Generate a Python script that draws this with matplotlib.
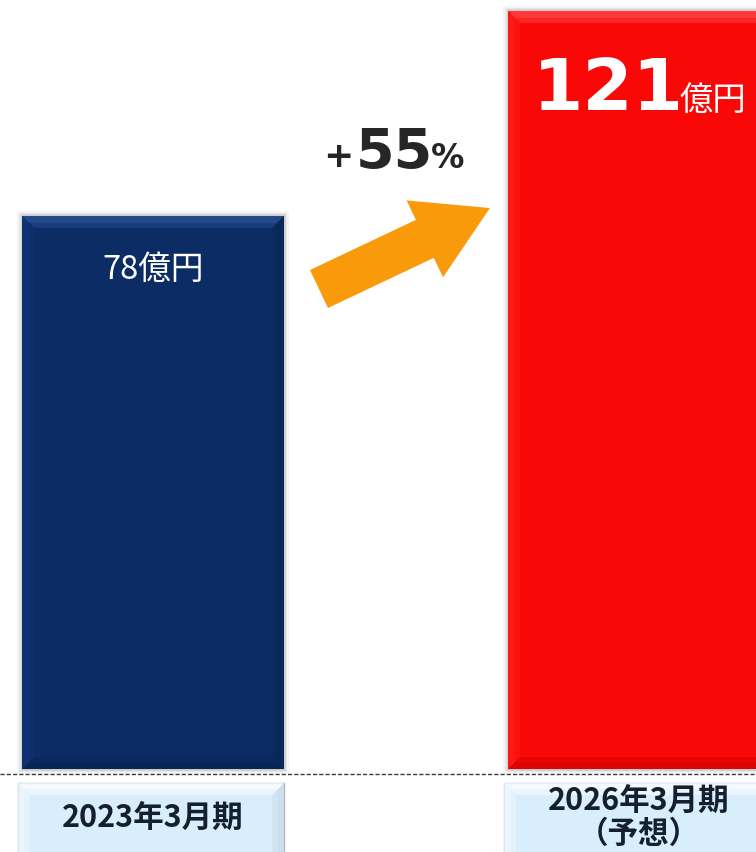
import matplotlib
matplotlib.use("Agg")
import matplotlib.pyplot as plt
from matplotlib.patches import Polygon, Rectangle, FancyArrow

# ---- data ----
categories = ["2023年3月期", "2026年3月期\n（予想）"]
values = [78, 121]
value_labels = ["78億円", "121億円"]
growth_label = "+55%"

# ---- style ----
bar_colors = ["#0B2C64", "#FA0808"]
bevel_light = ["#2A5298", "#FF4848"]
bevel_side_l = ["#113577", "#FF1C1C"]
bevel_side_r = ["#092656", "#E40404"]
bevel_dark = ["#082455", "#D60202"]
BASE = -38
CJK = ["Noto Sans CJK JP", "DejaVu Sans"]

W, H = 756, 852
fig = plt.figure(figsize=(W / 100, H / 100), dpi=100)
ax = fig.add_axes([0, 0, 1, 1])
ax.set_xlim(-0.315, 1.2407)
ax.set_ylim(-55.4, 123.3)
ax.axis("off")

PXX = 1 / 486.0
PXY = 1 / 4.767


def py(p):
    return (769 - p) * PXY + BASE


x = list(range(len(values)))
bw = 0.539
heights = [v - BASE for v in values]
bars = ax.bar(x, heights, bottom=BASE, width=bw, color=bar_colors, zorder=3)


def bevel(ax, x0, y0, x1, y1, b, cl, cls, crs, cd, z, alpha=1.0):
    bx, by = b * PXX, b * PXY
    ax.add_patch(Polygon([(x0, y1), (x1, y1), (x1 - bx, y1 - by), (x0 + bx, y1 - by)],
                         closed=True, color=cl, lw=0, zorder=z, alpha=alpha))
    ax.add_patch(Polygon([(x0, y0), (x0, y1), (x0 + bx, y1 - by), (x0 + bx, y0 + by)],
                         closed=True, color=cls, lw=0, zorder=z, alpha=alpha))
    ax.add_patch(Polygon([(x1, y0), (x1, y1), (x1 - bx, y1 - by), (x1 - bx, y0 + by)],
                         closed=True, color=crs, lw=0, zorder=z, alpha=alpha))
    ax.add_patch(Polygon([(x0, y0), (x1, y0), (x1 - bx, y0 + by), (x0 + bx, y0 + by)],
                         closed=True, color=cd, lw=0, zorder=z, alpha=alpha))


for i, p in enumerate(bars.patches):
    x0, y0 = p.get_x(), p.get_y()
    x1, y1 = x0 + p.get_width(), y0 + p.get_height()
    for k, a in [(5, 0.04), (3, 0.06), (1.5, 0.08)]:
        ax.add_patch(Rectangle((x0 - k * PXX, y0 - k * PXY), (x1 - x0) + 2 * k * PXX,
                               (y1 - y0) + 2 * k * PXY, color="#000000", alpha=a, lw=0, zorder=2))
    # layered bevel to imitate a soft gradient
    bevel(ax, x0, y0, x1, y1, 12, bevel_light[i], bevel_side_l[i], bevel_side_r[i], bevel_dark[i], 4, 0.45)
    bevel(ax, x0, y0, x1, y1, 7, bevel_light[i], bevel_side_l[i], bevel_side_r[i], bevel_dark[i], 4, 0.6)

# dashed baseline
ax.axhline(py(774), color="#3A3A3A", lw=1.0, ls=(0, (3, 1.5)), zorder=1)

# category label boxes
box_w = 266 * PXX
for i, lab in enumerate(categories):
    bx0 = x[i] - box_w / 2 - 2 * PXX
    bx1 = bx0 + box_w
    by0, by1 = py(870), py(783)
    ax.add_patch(Rectangle((bx0, by0), bx1 - bx0, by1 - by0, facecolor="#D9EEFC",
                           edgecolor="#A9B9C6", lw=1.0, zorder=3))
    bevel(ax, bx0, by0, bx1, by1, 12, "#FFFFFF", "#F2F9FF", "#C8DAE8", "#C8DAE8", 4, 0.45)
    bevel(ax, bx0, by0, bx1, by1, 6, "#FFFFFF", "#F2F9FF", "#C8DAE8", "#C8DAE8", 4, 0.55)
    if "\n" in lab:
        l1, l2 = lab.split("\n")
        ax.text(x[i], py(801), l1, ha="center", va="center", fontsize=22, fontweight="bold",
                family=CJK, color="#14202E", zorder=6)
        ax.text(x[i], py(834), l2, ha="center", va="center", fontsize=22, fontweight="bold",
                family=CJK, color="#14202E", zorder=6)
    else:
        ax.text(x[i], py(818), lab, ha="center", va="center", fontsize=22, fontweight="bold",
                family=CJK, color="#14202E", zorder=6)

# value labels
ax.text(x[0], py(270), value_labels[0], ha="center", va="center", fontsize=23.5,
        family=CJK, color="white", zorder=6)

num = value_labels[1].replace("億円", "")
ov = fig.add_axes([0, 0, 1, 1], facecolor="none")
ov.set_xlim(0, W)
ov.set_ylim(H, 0)
ov.axis("off")
ov.text(533, 110, num, ha="left", va="baseline", fontsize=52, fontweight="bold",
        family="DejaVu Sans", color="white", zorder=6)
ov.text(679, 110, "億円", ha="left", va="baseline", fontsize=24,
        family=CJK, color="white", zorder=6)

# growth label
g_num = growth_label.strip("+%")
ov.text(323, 167, "+", ha="left", va="baseline", fontsize=26, fontweight="bold",
        family="DejaVu Sans", color="#262626")
ov.text(356, 168, g_num, ha="left", va="baseline", fontsize=40, fontweight="bold",
        family="DejaVu Sans", color="#262626")
ov.text(431, 168, "%", ha="left", va="baseline", fontsize=24, fontweight="bold",
        family="DejaVu Sans", color="#262626")

# arrow (decorative)
ov.add_patch(FancyArrow(319, 289, 171 * (117 / 189), -81 * (117 / 189), width=42,
                        head_width=85, head_length=72, length_includes_head=False,
                        color="#F99A0B", lw=0))

fig.savefig("out.png", dpi=100)
